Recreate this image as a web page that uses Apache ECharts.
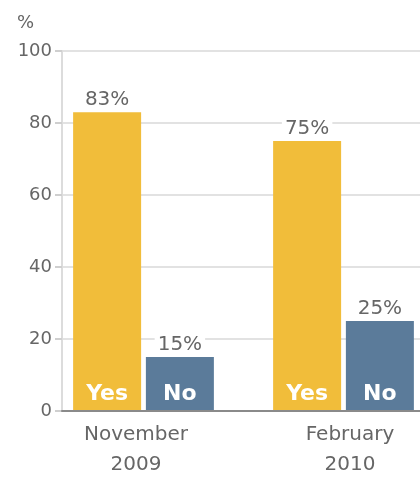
<!DOCTYPE html>
<html>
<head>
<meta charset="utf-8">
<script src="https://cdn.jsdelivr.net/npm/echarts@6/dist/echarts.min.js"></script>
<style>
  html, body { margin: 0; padding: 0; background: #fff; }
  #chart { width: 420px; height: 477px; }
</style>
</head>
<body>
<div id="chart"></div>
<script>
// Survey results: share answering Yes / No, by survey date
const periods = ['November\n2009', 'February\n2010'];
const yesValues = [83, 75];
const noValues = [15, 25];
const answerNames = ['Yes', 'No'];
const yTicks = { min: 0, max: 100, step: 20 };

const FONT = 'DejaVu Sans';
const TEXT_GRAY = '#666';
const YES_COLOR = '#F1BD3A';
const NO_COLOR = '#5B7B9A';

// Zero-height bars at the baseline carry the "Yes" / "No" tags inside each column
const tagBase = periods.map(() => 0);

function valueSeries(name, values, color, stack) {
  return {
    name: name,
    type: 'bar',
    xAxisIndex: 1,
    yAxisIndex: 1,
    stack: stack,
    data: values,
    barWidth: 68,
    barGap: '7%',
    itemStyle: { color: color },
    label: {
      show: true,
      position: 'top',
      distance: 2,
      formatter: p => p.value + '%',
      color: TEXT_GRAY,
      fontFamily: FONT,
      fontSize: 20,
      backgroundColor: '#fff',
      padding: [1, 3, 0, 3]
    },
    z: 3
  };
}

function tagSeries(name, stack) {
  return {
    name: name + ' tag',
    type: 'bar',
    xAxisIndex: 1,
    yAxisIndex: 1,
    stack: stack,
    data: tagBase,
    barWidth: 68,
    barGap: '7%',
    itemStyle: { color: 'transparent' },
    label: {
      show: true,
      position: 'top',
      distance: 6,
      formatter: () => name,
      color: '#fff',
      fontFamily: FONT,
      fontWeight: 'bold',
      fontSize: 22
    },
    z: 4
  };
}

const periodLabelStyle = {
  color: TEXT_GRAY,
  fontFamily: FONT,
  fontSize: 20,
  lineHeight: 30
};

const chart = echarts.init(document.getElementById('chart'), null, { renderer: 'canvas' });

chart.setOption({
  animation: false,
  backgroundColor: '#fff',
  title: {
    text: '%',
    left: 12,
    top: 9,
    textStyle: { fontFamily: FONT, fontSize: 18, fontWeight: 'normal', color: TEXT_GRAY }
  },
  grid: [
    // frame with the value axis and gridlines
    { left: 62, top: 51, right: 0, height: 360, outerBoundsMode: 'none', containLabel: false },
    // plotting area for the columns (runs past the right edge)
    { left: 43.5, top: 51, width: 400, height: 360, outerBoundsMode: 'none', containLabel: false }
  ],
  xAxis: [
    {
      gridIndex: 0,
      type: 'category',
      data: periods,
      axisLine: { show: true, lineStyle: { color: '#8a8a8a', width: 2 } },
      axisTick: { show: false },
      axisLabel: { show: false },
      splitLine: { show: false },
      z: 5
    },
    {
      gridIndex: 1,
      type: 'category',
      data: periods,
      axisLine: { show: false },
      axisTick: { show: false },
      axisLabel: {
        margin: 9,
        formatter: (value, index) => '{p' + index + '|' + value + '}',
        rich: {
          p0: Object.assign({ padding: [0, 15, 0, 0] }, periodLabelStyle),
          p1: Object.assign({ padding: [0, 0, 0, 13] }, periodLabelStyle)
        },
        ...periodLabelStyle
      }
    }
  ],
  yAxis: [
    {
      gridIndex: 0,
      type: 'value',
      min: yTicks.min,
      max: yTicks.max,
      interval: yTicks.step,
      axisLine: { show: true, lineStyle: { color: '#dcdcdc', width: 2 } },
      axisTick: { show: true, length: 7, lineStyle: { color: '#cfcfcf', width: 2 } },
      axisLabel: {
        margin: 10,
        color: TEXT_GRAY,
        fontFamily: FONT,
        fontSize: 18
      },
      splitLine: { show: true, lineStyle: { color: '#e2e2e2', width: 2 } }
    },
    {
      gridIndex: 1,
      type: 'value',
      min: yTicks.min,
      max: yTicks.max,
      interval: yTicks.step,
      show: false,
      splitLine: { show: false }
    }
  ],
  series: [
    tagSeries(answerNames[0], 'yes'),
    valueSeries(answerNames[0], yesValues, YES_COLOR, 'yes'),
    tagSeries(answerNames[1], 'no'),
    valueSeries(answerNames[1], noValues, NO_COLOR, 'no')
  ]
});
</script>
</body>
</html>
